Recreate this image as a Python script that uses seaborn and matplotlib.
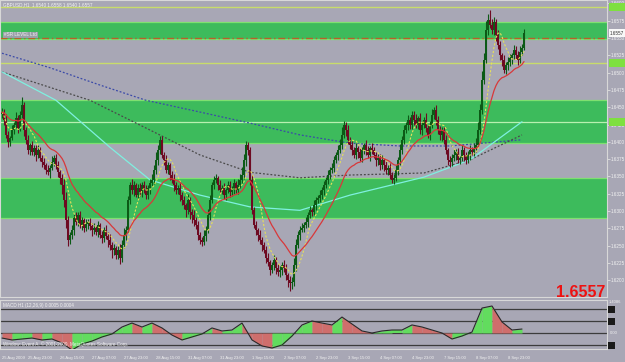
import numpy as np
import pandas as pd
import matplotlib
matplotlib.use("Agg")
import matplotlib.pyplot as plt
import seaborn as sns

# ---------------- data (prices in pips, i.e. price * 10000) ----------------
FIRST_OPEN_PIPS = 16440
CLOSE_PIPS = [
    16443, 16432, 16410, 16400, 16405, 16417, 16424, 16434, 16420, 16439, 16453,
    16417, 16403, 16388, 16395, 16385, 16391, 16381, 16388, 16377, 16371,
    16366, 16359, 16356, 16362, 16371, 16377, 16366, 16356, 16348, 16338,
    16316, 16287, 16258, 16265,
    16273, 16290, 16284, 16294, 16280, 16287, 16275, 16281,
    16284, 16278, 16273, 16275, 16270, 16280, 16265, 16261, 16273, 16264,
    16258, 16251, 16244, 16247, 16236, 16244, 16232, 16251,
    16265, 16273, 16316, 16338,
    16330, 16338, 16323, 16333, 16327, 16338, 16330, 16323, 16333, 16340, 16345,
    16359, 16374, 16388, 16403, 16381,
    16374, 16359, 16366, 16352, 16345, 16338, 16330, 16333, 16323, 16316,
    16309, 16301, 16316, 16299, 16294, 16287, 16280,
    16265, 16258, 16255, 16264, 16273,
    16294, 16316, 16338, 16345, 16348,
    16338, 16330, 16333, 16323, 16330, 16338, 16327, 16333, 16340, 16330, 16338, 16345, 16352,
    16374, 16395, 16388,
    16345, 16301, 16280,
    16273, 16265, 16258, 16251, 16244,
    16232, 16226, 16215, 16222, 16229, 16218, 16212,
    16215, 16222, 16218, 16208, 16200, 16196,
    16197, 16222,
    16251, 16265, 16273,
    16275, 16280, 16284, 16294, 16301, 16299, 16309, 16316, 16319, 16323,
    16330, 16338, 16345, 16352, 16359, 16362, 16374, 16381, 16388, 16395,
    16410, 16424, 16417, 16403, 16395,
    16388, 16381, 16391, 16385, 16377, 16388, 16395, 16388, 16381, 16391, 16388, 16381, 16374, 16377, 16366,
    16374, 16366, 16359, 16362, 16352, 16345, 16348, 16359, 16374,
    16388, 16403, 16417, 16424, 16432, 16424,
    16439, 16432, 16424, 16434, 16417, 16424, 16432, 16420, 16410, 16424, 16439, 16446, 16432, 16417, 16410,
    16417, 16403, 16388, 16374, 16371,
    16377, 16381, 16385, 16374, 16377, 16388, 16381, 16374, 16381, 16388, 16385, 16391, 16395,
    16417, 16446, 16489, 16518, 16562, 16576,
    16569, 16562, 16573,
    16554, 16540, 16525, 16518, 16504, 16511,
    16515, 16521, 16525, 16533, 16525, 16518, 16530, 16536, 16557,
]
UP_WICK = [
    6, 4, 8, 5, 3, 7, 4, 9, 5, 6, 12, 5, 4, 7, 3, 6, 5, 4, 8, 5,
    4, 6, 3, 7, 5, 8, 4, 5, 6, 3, 5, 9, 12, 6, 4, 7, 5, 8, 4, 6,
    5, 3, 7, 4, 6, 5, 8, 4, 5, 3, 6, 4, 7, 5, 9, 4, 6, 3, 5, 8,
    7, 10, 5, 6, 4, 8, 5, 3, 6, 7, 4, 5, 8, 4, 6, 9, 7, 12, 8, 5,
    6, 4, 7, 5, 3, 6, 8, 4, 5, 7, 4, 6, 3, 8, 5, 4, 7, 5, 6, 4,
    5, 8, 6, 9, 7, 4, 6, 5, 3, 7, 5, 8, 4, 6, 5, 3, 7, 4, 8, 9,
    12, 8, 6, 5, 4, 7, 5, 6, 3, 8, 5, 4, 6, 7, 3, 5, 8, 4, 6, 5,
    4, 7, 5, 3, 6, 8, 10, 9, 6, 5, 7, 4, 8, 5, 6, 3, 7, 5, 4, 8,
    5, 6, 4, 7, 5, 8, 6, 4, 7, 9, 11, 6, 5, 8, 4, 6, 5, 7, 3, 6,
    5, 4, 7, 6, 3, 8, 5, 4, 6, 5, 7, 3, 6, 4, 8, 5, 6, 7, 4, 9,
    6, 8, 5, 7, 4, 6, 5, 8, 3, 7, 6, 4, 9, 5, 6, 8, 4, 7, 5, 6,
    4, 5, 7, 3, 6, 5, 8, 4, 6, 3, 7, 5, 4, 6, 8, 5, 7, 10, 12, 9,
    14, 10, 12, 8, 15, 9, 7, 5, 8, 6, 4, 7, 5, 8, 6, 4, 7, 5, 6, 8,
    5, 6,
]
DN_WICK = [
    5, 7, 4, 8, 6, 3, 5, 4, 7, 5, 4, 8, 6, 5, 7, 4, 6, 8, 5, 4,
    7, 5, 6, 4, 8, 3, 6, 5, 7, 9, 14, 10, 12, 8, 6, 5, 7, 4, 6, 5,
    8, 6, 4, 7, 5, 9, 6, 5, 8, 4, 7, 6, 5, 10, 7, 12, 8, 6, 5, 9,
    6, 5, 7, 4, 6, 5, 8, 3, 6, 5, 7, 4, 6, 5, 8, 4, 6, 5, 7, 6,
    5, 8, 4, 6, 7, 5, 9, 6, 5, 8, 7, 6, 9, 5, 10, 12, 8, 6, 7, 5,
    6, 4, 8, 5, 7, 4, 6, 5, 8, 4, 6, 5, 7, 4, 6, 5, 8, 4, 6, 5,
    4, 6, 9, 7, 8, 6, 5, 7, 8, 6, 9, 5, 7, 6, 8, 5, 7, 9, 6, 8,
    7, 6, 8, 10, 12, 9, 6, 8, 5, 7, 4, 6, 5, 7, 4, 6, 5, 7, 4, 6,
    5, 7, 4, 6, 5, 4, 6, 5, 7, 4, 6, 5, 8, 6, 5, 7, 4, 6, 8, 5,
    6, 5, 7, 4, 8, 6, 5, 9, 7, 6, 5, 8, 6, 7, 5, 4, 6, 5, 7, 8,
    5, 6, 4, 7, 5, 6, 8, 4, 6, 5, 7, 4, 6, 5, 7, 4, 6, 8, 5, 7,
    9, 6, 5, 8, 7, 6, 5, 7, 4, 6, 5, 8, 6, 5, 7, 4, 5, 6, 4, 5,
    6, 5, 4, 7, 5, 6, 8, 9, 6, 7, 8, 5, 6, 7, 5, 8, 6, 5, 7, 4,
    5, 4,
]

# long moving averages (value read at a few bars)
BLUE_MA_BARS = [0, 24, 49, 72, 99, 124, 149, 174, 199, 224, 260]
BLUE_MA_PIPS = [16528, 16507, 16482, 16460, 16443, 16427, 16410, 16398, 16394, 16394, 16403]
GRAY_MA_BARS = [0, 44, 74, 99, 124, 149, 174, 211, 234, 260]
GRAY_MA_PIPS = [16501, 16460, 16417, 16381, 16356, 16348, 16352, 16355, 16374, 16410]
CYAN_MA_BARS = [0, 27, 54, 74, 99, 124, 149, 174, 211, 234, 260]
CYAN_MA_PIPS = [16501, 16460, 16392, 16345, 16323, 16306, 16301, 16323, 16349, 16374, 16429]

ZONES_PIPS = [(16549, 16573), (16398, 16460), (16290, 16348)]
LEVELS_PIPS = [16595, 16514, 16429]
DASH_LEVEL_PIPS = 16550

PRICE_TICKS = [1.6600, 1.6575, 1.6550, 1.6525, 1.6500, 1.6475, 1.6450, 1.6425, 1.6400,
               1.6375, 1.6350, 1.6325, 1.6300, 1.6275, 1.6250, 1.6225, 1.6200]

DATE_TICK_BARS = [0, 13, 29, 45, 61, 77, 93, 109, 125, 141, 157, 173, 189, 205, 221, 237, 253]
DATE_LABELS = ["25 Aug 2009", "25 Aug 23:00", "26 Aug 15:00", "27 Aug 07:00", "27 Aug 23:00",
               "28 Aug 15:00", "31 Aug 07:00", "31 Aug 23:00", "1 Sep 15:00", "2 Sep 07:00",
               "2 Sep 23:00", "3 Sep 15:00", "4 Sep 07:00", "4 Sep 23:00", "7 Sep 15:00",
               "8 Sep 07:00", "8 Sep 23:00"]

MACD_STEP = 5
MACD_VALUES = [-0.42, -0.58, -0.5, -0.42, -0.58, -0.5, -0.83, -1.42, -0.92, -0.67, -0.33, -0.08,
               0.5, 0.83, 0.5, 0.83, 0.42, -0.17, -0.58, -0.33, -0.08, 0.42, 0.17, 0.25, 0.83,
               -0.58, -1.08, -1.25, -1.0, -0.25, 0.67, 1.0, 0.83, 0.67, 1.33, 0.75, 0.17, 0.0,
               0.17, 0.25, 0.25, 0.67, 0.5, 0.25, 0.0, -0.5, -0.25, 0.08, 2.08, 2.25, 0.92, 0.25, 0.33]
MACD_LEVELS = [2.0, 1.0, 0.0, -1.0]

# ---------------- style ----------------
sns.set_style("dark")
plt.rcParams["font.family"] = ["Liberation Sans", "DejaVu Sans"]
BG = "#a8a7b5"
GREEN_ZONE = "#3dbb5c"
ZONE_EDGE = "#7fe070"
TXT = "#f2f2f2"
SMALL = 3.3

W, H = 625, 362
fig = plt.figure(figsize=(W / 100, H / 100), dpi=100, facecolor=BG)

def px_axes(x0, y0, x1, y1):
    return fig.add_axes([x0 / W, 1 - y1 / H, (x1 - x0) / W, (y1 - y0) / H])

ax = px_axes(0, 0, 607, 297)
ax2 = px_axes(0, 300, 607, 349)
for a in (ax, ax2):
    a.set_facecolor(BG)
    a.set_xlim(-1, 302.5)
    for s in a.spines.values():
        s.set_color("#d8d8d8")
        s.set_linewidth(0.8)
    a.grid(False)

# ---------------- main chart ----------------
close = np.array(CLOSE_PIPS, dtype=float) / 1e4
opn = np.concatenate([[FIRST_OPEN_PIPS / 1e4], close[:-1]])
high = np.maximum(opn, close) + np.array(UP_WICK) / 1e4
low = np.minimum(opn, close) - np.array(DN_WICK) / 1e4
bars = np.arange(len(close))
df = pd.DataFrame({"bar": bars, "open": opn, "close": close, "high": high, "low": low})

ax.set_ylim(1.61758, 1.66049)

for lo, hi in ZONES_PIPS:
    ax.axhspan(lo / 1e4, hi / 1e4, color=GREEN_ZONE, lw=0, zorder=0)
    ax.axhline(lo / 1e4, color=ZONE_EDGE, lw=0.9, zorder=0.5)
    ax.axhline(hi / 1e4, color=ZONE_EDGE, lw=0.9, zorder=0.5)
ax.axhline(LEVELS_PIPS[0] / 1e4, color="#c8dc6a", lw=1.0, zorder=0.6)
ax.axhline(LEVELS_PIPS[1] / 1e4, color="#c8dc6a", lw=1.0, zorder=0.6)
ax.axhline(LEVELS_PIPS[2] / 1e4, color="#b8f0b0", lw=0.9, zorder=0.6)
ax.axhline(DASH_LEVEL_PIPS / 1e4, color="#b8602a", lw=1.0, ls=(0, (5, 2, 1, 2)), zorder=0.6)

# long MAs
sns.lineplot(x=BLUE_MA_BARS, y=np.array(BLUE_MA_PIPS) / 1e4, ax=ax, color="#3b4aa8",
             lw=0.9, linestyle=(0, (1.5, 1.5)), zorder=2)
sns.lineplot(x=GRAY_MA_BARS, y=np.array(GRAY_MA_PIPS) / 1e4, ax=ax, color="#4a4a4a",
             lw=0.9, linestyle=(0, (1.5, 1.5)), zorder=2)
sns.lineplot(x=CYAN_MA_BARS, y=np.array(CYAN_MA_PIPS) / 1e4, ax=ax, color="#7ff0e0",
             lw=0.9, zorder=2)

# candles
up = df["close"] >= df["open"]
col = np.where(up, "#0c5a16", "#6e0a22")
ax.vlines(df["bar"], df["low"], df["high"], colors=col, lw=0.8, zorder=3)
body = (df["close"] - df["open"]).abs().clip(lower=0.00012)
ax.bar(df["bar"], body, bottom=np.minimum(df["open"], df["close"]), width=0.85,
       color=col, lw=0, zorder=3)

# fast MAs computed from closes
df["ema"] = df["close"].ewm(span=21, adjust=False).mean()
df["sma"] = df["close"].rolling(8, min_periods=1).mean()
sns.lineplot(data=df, x="bar", y="sma", ax=ax, color="#e6e05a", lw=0.8,
             linestyle=(0, (2, 1.5)), zorder=4)
sns.lineplot(data=df, x="bar", y="ema", ax=ax, color="#d8383a", lw=0.9, zorder=4)

ax.set_xlabel("")
ax.set_ylabel("")
ax.set_xticks([])
ax.yaxis.tick_right()
ax.set_yticks(PRICE_TICKS)
ax.set_yticklabels([f"{t:.4f}" for t in PRICE_TICKS])
ax.tick_params(axis="y", right=True, length=2, width=0.6, color="#e0e0e0",
               labelsize=SMALL, labelcolor=TXT, pad=1)

# right-axis markers of the horizontal levels and current price
def right_box(price, color, text=None, tcolor="#333333"):
    fy = ax.transData.transform((0, price))[1] / H
    fig.patches.append(plt.Rectangle((609 / W, fy - 4 / H), 16 / W, 8 / H, transform=fig.transFigure,
                                     color=color, lw=0, zorder=5))
    if text:
        fig.text(610 / W, fy, text, fontsize=SMALL, color=tcolor, va="center", ha="left", zorder=6)

right_box(LEVELS_PIPS[0] / 1e4, "#7ee040")
right_box(LEVELS_PIPS[1] / 1e4, "#7ee040")
right_box(LEVELS_PIPS[2] / 1e4, "#7ee040")
right_box(close[-1], "#f8f8f8", f"{close[-1]:.4f}")

fig.text(3 / W, 1 - 5 / H, "GBPUSD,H1  1.6540 1.6558 1.6540 1.6557", fontsize=SMALL,
         color=TXT, va="center", ha="left")
fig.text(4 / W, 1 - 35 / H, "#SR LEVEL Ltd", fontsize=SMALL, color=TXT, va="center", ha="left",
         bbox=dict(boxstyle="square,pad=0.2", fc="#9aa0a8", ec="none"))
fig.text(605 / W, 1 - 297 / H, "1.6557", fontsize=11.5, color="#ee1111", fontweight="bold",
         family="Liberation Sans", ha="right", va="baseline")

# ---------------- indicator ----------------
ax2.set_ylim(-1.333, 2.75)
mb = np.arange(len(MACD_VALUES)) * MACD_STEP
mv = np.array(MACD_VALUES)
for lv in MACD_LEVELS:
    ax2.axhline(lv, color="#3c3c3c", lw=0.9, zorder=1)
for i in range(len(mb) - 1):
    c = "#62dc5e" if mv[i + 1] >= mv[i] else "#cf6e6c"
    ax2.fill_between(mb[i:i + 2], mv[i:i + 2], 0, color=c, lw=0, zorder=2)
sns.lineplot(x=mb, y=mv, ax=ax2, color="#2a2a2a", lw=0.8, zorder=3)
ax2.set_xlabel("")
ax2.set_ylabel("")
ax2.set_yticks([])
ax2.set_xticks(DATE_TICK_BARS)
ax2.set_xticklabels(DATE_LABELS)
ax2.tick_params(axis="x", length=2, width=0.6, color="#e0e0e0", labelsize=3.0,
                labelcolor=TXT, pad=3)
for t in ax2.get_xticklabels():
    t.set_ha("left")

for lv in [2.0, 1.0, -1.0]:
    yy = ax2.transData.transform((0, lv))[1] / H
    fig.patches.append(plt.Rectangle((608 / W, yy - 3.5 / H), 7 / W, 7 / H, transform=fig.transFigure,
                                     color="#1a1a1a", lw=0, zorder=5))
fig.text(609 / W, 1 - 302 / H, "1.4086", fontsize=3.0, color=TXT, va="center", ha="left")
fig.text(610 / W, 1 - 333 / H, "0.00", fontsize=3.0, color=TXT, va="center", ha="left")

fig.text(3 / W, 1 - 305 / H, "MACD H1 (12,26,9) 0.0005 0.0004", fontsize=SMALL, color=TXT,
         va="center", ha="left")
fig.text(3 / W, 1 - 344 / H, "Window: Event A, \u00a9 2001-2009, MetaQuotes Software Corp.",
         fontsize=SMALL, color=TXT, va="center", ha="left")

fig.savefig("out.png", dpi=100, facecolor=BG)
